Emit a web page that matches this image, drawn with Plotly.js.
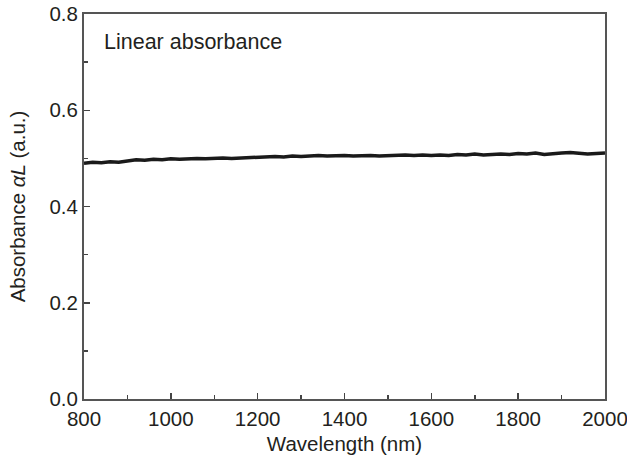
<!DOCTYPE html>
<html>
<head>
<meta charset="utf-8">
<script src="https://cdn.plot.ly/plotly-3.0.1.min.js"></script>
<style>html,body{margin:0;padding:0;background:#fff;}#chart{width:627px;height:463px;}</style>
</head>
<body>
<div id="chart"></div>
<script>
const wavelength = [800,820,840,860,880,900,920,940,960,980,1000,1020,1040,1060,1080,1100,1120,1140,1160,1180,1200,1220,1240,1260,1280,1300,1320,1340,1360,1380,1400,1420,1440,1460,1480,1500,1520,1540,1560,1580,1600,1620,1640,1660,1680,1700,1720,1740,1760,1780,1800,1820,1840,1860,1880,1900,1920,1940,1960,1980,2000];
const absorbance = [0.490,0.492,0.491,0.493,0.492,0.494,0.497,0.496,0.498,0.497,0.499,0.498,0.499,0.500,0.499,0.500,0.501,0.500,0.501,0.502,0.503,0.503,0.504,0.503,0.505,0.504,0.505,0.506,0.505,0.506,0.506,0.505,0.506,0.506,0.505,0.506,0.506,0.507,0.506,0.507,0.506,0.507,0.506,0.508,0.507,0.509,0.507,0.508,0.509,0.508,0.510,0.509,0.511,0.508,0.510,0.511,0.512,0.510,0.509,0.510,0.511];
const xTicks = [800,1000,1200,1400,1600,1800,2000];
const yTicks = [0.0,0.2,0.4,0.6,0.8];
const yTickText = ['0.0','0.2','0.4','0.6','0.8'];
const labelText = 'Linear absorbance';

const font = {family:'"Liberation Sans", Arial, sans-serif', size:20.5, color:'#231f20'};
const data = [{
  x: wavelength, y: absorbance, type:'scatter', mode:'lines',
  line:{color:'#1a1a1a', width:3.5}, hoverinfo:'skip'
}];
const layout = {
  width:627, height:463,
  margin:{l:84, r:22, t:14, b:64},
  paper_bgcolor:'#fff', plot_bgcolor:'#fff',
  font: font,
  showlegend:false,
  xaxis:{
    range:[800,2000], tickvals:xTicks, ticktext:xTicks.map(String),
    ticks:'inside', ticklen:6, tickwidth:1.5, tickcolor:'#444',
    minor:{ticks:'inside', ticklen:4, tickwidth:1.5, tickcolor:'#444', dtick:100, tick0:800, showgrid:false},
    showline:true, linecolor:'#555', linewidth:2, mirror:true,
    showgrid:false, zeroline:false, tickfont:{size:20.5}, ticklabeloverflow:'allow',
    title:{text:'Wavelength (nm)', font:{size:20.5}, standoff:8}
  },
  yaxis:{
    range:[0,0.8], tickvals:yTicks, ticktext:yTickText,
    ticks:'inside', ticklen:6, tickwidth:1.5, tickcolor:'#444',
    minor:{ticks:'inside', ticklen:4, tickwidth:1.5, tickcolor:'#444', dtick:0.1, tick0:0, showgrid:false},
    showline:true, linecolor:'#555', linewidth:2, mirror:true,
    showgrid:false, zeroline:false, tickfont:{size:20.5}, ticklabeloverflow:'allow',
    title:{text:'Absorbance <i>αL</i> (a.u.)', font:{size:20.5}, standoff:18}
  },
  annotations:[{
    text:labelText, xref:'paper', yref:'paper', x:0.034, y:0.927,
    xanchor:'left', yanchor:'middle', showarrow:false, font:{size:21.5}
  }]
};
Plotly.newPlot('chart', data, layout, {staticPlot:true, displayModeBar:false});
</script>
</body>
</html>
